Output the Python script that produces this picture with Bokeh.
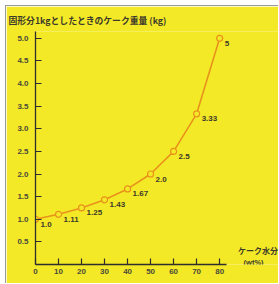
from bokeh.plotting import figure
from bokeh.models import FixedTicker, Label, ColumnDataSource, NumeralTickFormatter, Title
from bokeh.core.properties import value
from bokeh.embed import file_html
from bokeh.resources import INLINE

water = [0, 10, 20, 30, 40, 50, 60, 70, 80]
cake_weight = [1.0, 1.11, 1.25, 1.43, 1.67, 2.0, 2.5, 3.33, 5.0]
point_labels = ["1.0", "1.11", "1.25", "1.43", "1.67", "2.0", "2.5", "3.33", "5"]
x_ticks = [0, 10, 20, 30, 40, 50, 60, 70, 80]
y_ticks = [0.5, 1.0, 1.5, 2.0, 2.5, 3.0, 3.5, 4.0, 4.5, 5.0]

YELLOW = "#f4e926"
ORANGE = "#e8921c"
TEXT = "#3c3a2a"
NUM_FONT = "Liberation Sans"
JP_FONT = "Noto Sans CJK JP"

p = figure(width=273, height=278, output_backend="svg", toolbar_location=None,
           x_range=(0, 106), y_range=(0, 5.15),
           min_border_left=29, min_border_right=0, min_border_top=24, min_border_bottom=20)
p.background_fill_color = YELLOW
p.border_fill_color = YELLOW
p.outline_line_color = None
p.grid.grid_line_color = None
p.styles = {"margin-left": "5px", "margin-top": "5px",
            "border-left": "1px solid #9a9a9a", "border-top": "1px solid #9a9a9a"}

p.title = Title(text="固形分1kgとしたときのケーク重量 (kg)", align="left", offset=-27,
                text_font=JP_FONT, text_font_size="8.8px", text_font_style="bold",
                text_color=TEXT, standoff=10)

for ax in (p.xaxis[0], p.yaxis[0]):
    ax.axis_line_color = "#2e2e2e"
    ax.axis_line_width = 1.3
    ax.major_tick_line_color = "#2e2e2e"
    ax.major_tick_line_width = 1.2
    ax.major_tick_in = 6
    ax.major_tick_out = 0
    ax.minor_tick_line_color = None
    ax.major_label_text_font = NUM_FONT
    ax.major_label_text_font_size = "8px"
    ax.major_label_text_font_style = "bold"
    ax.major_label_text_color = "#4a4a3a"

p.xaxis.bounds = (0, 83)
p.yaxis.bounds = (0, 5.15)
p.xaxis.ticker = FixedTicker(ticks=x_ticks)
p.yaxis.ticker = FixedTicker(ticks=y_ticks)
p.yaxis.formatter = NumeralTickFormatter(format="0.0")
p.xaxis.major_label_standoff = 4
p.yaxis.major_label_standoff = 7

src = ColumnDataSource(dict(x=water, y=cake_weight, t=point_labels))
p.line("x", "y", source=src, line_color=ORANGE, line_width=1.6)
p.scatter("x", "y", source=src, size=6, fill_color=YELLOW, line_color=ORANGE, line_width=1.2)
p.text("x", "y", text="t", source=src, x_offset=5, y_offset=5,
       text_font=value(NUM_FONT), text_font_size="8px", text_font_style="bold",
       text_color=TEXT, text_baseline="middle", text_align="left")

p.add_layout(Label(x=88, y=0.31, text="ケーク水分", text_font=JP_FONT, text_font_size="8px",
                   text_font_style="bold", text_color=TEXT, text_baseline="middle"))
p.add_layout(Label(x=90.4, y=0.04, text="(wt%)", text_font=NUM_FONT, text_font_size="7.5px",
                   text_font_style="bold", text_color=TEXT, text_baseline="middle"))

open("out.html", "w").write(file_html(p, INLINE))
